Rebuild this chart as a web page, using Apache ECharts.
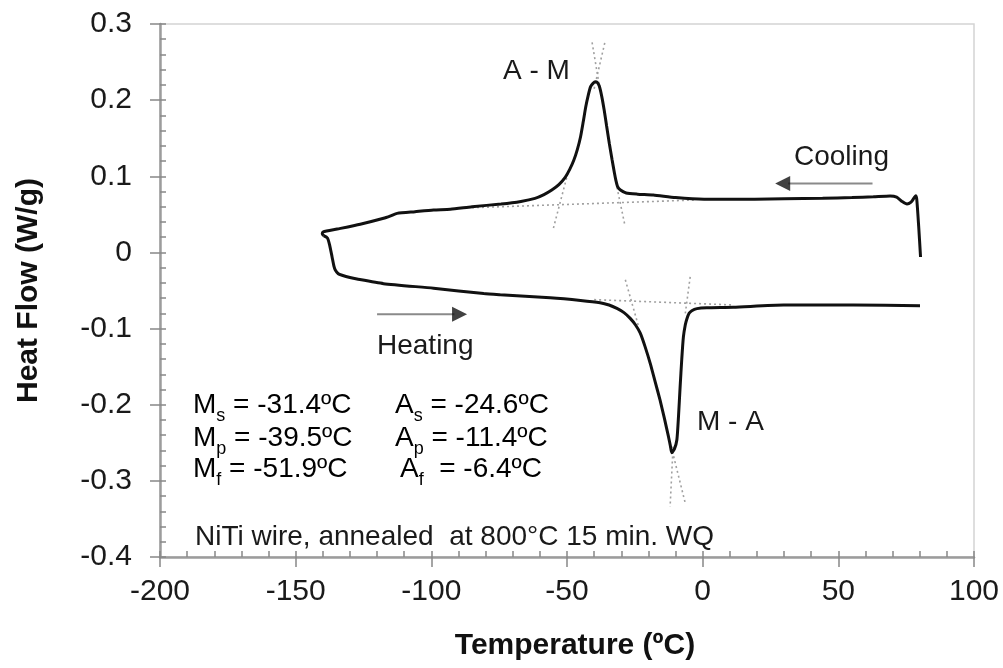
<!DOCTYPE html>
<html>
<head>
<meta charset="utf-8">
<script src="https://cdn.jsdelivr.net/npm/echarts@6/dist/echarts.min.js"></script>
<style>
html,body{margin:0;padding:0;background:#fff;}
#chart{width:1003px;height:668px;}
</style>
</head>
<body>
<div id="chart"></div>
<script>
// ---------- data ----------
const coolingT = [80.3, 79.6, 78.9, 78.5, 77.8, 76.8, 75.3, 73.5, 71.5, 69.1, 62.9, 55, 44.2, 30, 19.2, 0.5, -10, -18.2, -24, -28.2, -30.3, -31.3, -32.0, -32.5, -33.4, -34.4, -35.4, -36.3, -37.2, -38.1, -38.9, -39.6, -40.4, -41.3, -42.2, -43.1, -44.0, -45.0, -46.2, -47.5, -49.0, -50.6, -53, -55.6, -58.5, -61.8, -67, -74.3, -85, -93.0, -99.2, -106, -112.6, -115, -117.6, -126.2, -134.7, -139.9, -140.2, -139.7];
const coolingHF = [-0.006, 0.035, 0.070, 0.0745, 0.071, 0.066, 0.0636, 0.067, 0.0725, 0.074, 0.073, 0.072, 0.071, 0.0705, 0.070, 0.070, 0.072, 0.0754, 0.0765, 0.078, 0.082, 0.086, 0.095, 0.104, 0.122, 0.143, 0.166, 0.187, 0.205, 0.2185, 0.2235, 0.224, 0.222, 0.2177, 0.206, 0.191, 0.172, 0.152, 0.135, 0.121, 0.109, 0.099, 0.089, 0.082, 0.076, 0.071, 0.067, 0.0636, 0.060, 0.0566, 0.0557, 0.0535, 0.0513, 0.048, 0.0448, 0.037, 0.0307, 0.027, 0.0245, 0.022];

const heatingT = [-139.7, -138.3, -137.5, -136.6, -135.9, -135.4, -134.3, -132.9, -130, -127.4, -117.6, -99.2, -80.7, -74.6, -56.2, -45, -37.8, -34.5, -31.6, -29, -26.7, -24.8, -23.0, -21.2, -19.3, -17.5, -15.7, -14.1, -12.6, -11.9, -11.4, -10.4, -9.5, -8.9, -8.3, -7.7, -7.1, -6.4, -5.8, -5.0, -4.0, -2.1, 1.5, 11.3, 29.8, 55.5, 80.1];
const heatingHF = [0.022, 0.019, 0.010, -0.0056, -0.018, -0.023, -0.028, -0.030, -0.033, -0.035, -0.041, -0.047, -0.054, -0.0555, -0.0595, -0.063, -0.066, -0.069, -0.0735, -0.079, -0.0866, -0.095, -0.106, -0.124, -0.146, -0.170, -0.194, -0.218, -0.242, -0.254, -0.263, -0.258, -0.246, -0.215, -0.176, -0.14, -0.111, -0.095, -0.087, -0.080, -0.0765, -0.0738, -0.0726, -0.072, -0.069, -0.069, -0.070];

// dotted construction (tangent) lines: [[T1, HF1], [T2, HF2]]
const coolBaseline   = [[-85, 0.0587], [-3.2, 0.0688]];
const coolMfTangent  = [[-55.0, 0.032], [-49.4, 0.108]];
const coolMsTangent  = [[-28.8, 0.038], [-31.9, 0.091]];
const coolPeakLineA  = [[-40.0, 0.215], [-35.9, 0.278]];
const coolPeakLineB  = [[-37.9, 0.215], [-40.9, 0.279]];
const heatBaseline   = [[-40, -0.062], [11.3, -0.069]];
const heatAsTangent  = [[-28.5, -0.036], [-23.6, -0.0976]];
const heatAfTangent  = [[-4.6, -0.032], [-6.4, -0.080]];
const heatPeakLineC  = [[-10.9, -0.255], [-12.0, -0.334]];
const heatPeakLineD  = [[-11.6, -0.255], [-6.4, -0.3295]];

// direction arrows: shaft [[T1,HF1],[T2,HF2]] and arrowhead centre [T,HF]
const coolingArrowShaft = [[62.6, 0.0905], [31.5, 0.0905]];
const coolingArrowHead  = [29.5, 0.0905];
const heatingArrowShaft = [[-120.0, -0.0813], [-91.5, -0.0813]];
const heatingArrowHead  = [-89.6, -0.0813];

// axes
const xMin = -200, xMax = 100, xStep = 50;
const yMin = -0.4, yMax = 0.3, yStep = 0.1;

// ---------- chart ----------
const FONT = '"Liberation Sans", Arial, Helvetica, sans-serif';
const zip = (a, b) => a.map((v, i) => [v, b[i]]);
const chart = echarts.init(document.getElementById('chart'), null, {renderer: 'canvas'});

const dotted = (data) => ({
  type: 'line', data: data, symbol: 'none', silent: true, z: 1,
  lineStyle: {color: '#a0a0a0', width: 1.6, type: [2, 3]}
});

const baseAxis = {
  axisLine: {show: true, onZero: false, lineStyle: {color: '#9c9c9c', width: 2.5}},
  splitLine: {show: false}
};

chart.setOption({
  animation: false,
  backgroundColor: '#ffffff',
  grid: {left: 160, right: 29, top: 24, bottom: 111, show: true, borderColor: '#d4d4d4', borderWidth: 1.5, backgroundColor: 'transparent'},
  xAxis: [
    Object.assign({}, baseAxis, {
      type: 'value', min: xMin, max: xMax, interval: xStep, position: 'bottom',
      name: 'Temperature (ºC)', nameLocation: 'middle', nameGap: 74,
      nameTextStyle: {fontFamily: FONT, fontSize: 30, fontWeight: 'bold', color: '#111', padding: [0, 0, 0, 16]},
      axisTick: {show: true, inside: true, length: 6, lineStyle: {color: '#888', width: 1.5}},
      minorTick: {show: true, splitNumber: 5, length: 6, lineStyle: {color: '#888', width: 1.5}},
      axisLabel: {fontFamily: FONT, fontSize: 30, color: '#1a1a1a', margin: 20}
    }),
    {
      type: 'value', min: xMin, max: xMax, interval: xStep, position: 'bottom',
      axisLine: {show: false, onZero: false}, splitLine: {show: false}, axisLabel: {show: false},
      axisTick: {show: true, inside: false, length: 10, lineStyle: {color: '#888', width: 1.5}}
    }
  ],
  yAxis: [
    Object.assign({}, baseAxis, {
      type: 'value', min: yMin, max: yMax, interval: yStep, position: 'left',
      name: 'Heat Flow (W/g)', nameLocation: 'middle', nameGap: 116,
      nameTextStyle: {fontFamily: FONT, fontSize: 30, fontWeight: 'bold', color: '#111'},
      axisTick: {show: true, inside: true, length: 6, lineStyle: {color: '#888', width: 1.5}},
      minorTick: {show: true, splitNumber: 5, length: 6, lineStyle: {color: '#888', width: 1.5}},
      axisLabel: {fontFamily: FONT, fontSize: 30, color: '#1a1a1a', margin: 28}
    }),
    {
      type: 'value', min: yMin, max: yMax, interval: yStep, position: 'left',
      axisLine: {show: false, onZero: false}, splitLine: {show: false}, axisLabel: {show: false},
      axisTick: {show: true, inside: false, length: 10, lineStyle: {color: '#888', width: 1.5}}
    }
  ],
  series: [
    dotted(coolBaseline), dotted(coolMfTangent), dotted(coolMsTangent),
    dotted(coolPeakLineA), dotted(coolPeakLineB),
    dotted(heatBaseline), dotted(heatAsTangent), dotted(heatAfTangent),
    dotted(heatPeakLineC), dotted(heatPeakLineD),
    {
      name: 'Cooling', type: 'line', data: zip(coolingT, coolingHF), symbol: 'none', smooth: 0.2, z: 3,
      lineStyle: {color: '#111', width: 3}
    },
    {
      name: 'Heating', type: 'line', data: zip(heatingT, heatingHF), symbol: 'none', smooth: 0.2, z: 3,
      lineStyle: {color: '#111', width: 3}
    },
    {type: 'line', data: coolingArrowShaft, symbol: 'none', z: 2, lineStyle: {color: '#8a8a8a', width: 2}},
    {type: 'line', data: heatingArrowShaft, symbol: 'none', z: 2, lineStyle: {color: '#8a8a8a', width: 2}},
    {type: 'scatter', data: [coolingArrowHead], symbol: 'triangle', symbolSize: [15, 15], symbolRotate: 90, z: 4, itemStyle: {color: '#111'}},
    {type: 'scatter', data: [heatingArrowHead], symbol: 'triangle', symbolSize: [15, 15], symbolRotate: -90, z: 4, itemStyle: {color: '#111'}}
  ],
  graphic: (function () {
    const base = {fontFamily: FONT, fontSize: 28, fill: '#1a1a1a'};
    const rich = {
      b: {fontFamily: FONT, fontSize: 28, lineHeight: 30, verticalAlign: 'top', color: '#1a1a1a'},
      s: {fontFamily: FONT, fontSize: 18, lineHeight: 18, padding: [16, 0, 0, 0], verticalAlign: 'top', color: '#6f5a3e'}
    };
    const plain = (t, x, y) => ({type: 'text', x: x, y: y, silent: true, style: Object.assign({text: t, verticalAlign: 'middle', align: 'left'}, base)});
    const sub = (main, s, rest, x, y) => ({type: 'text', x: x, y: y, silent: true,
      style: {text: '{b|' + main + '}{s|' + s + '}{b|' + rest + '}', rich: rich, verticalAlign: 'middle', align: 'left', fontFamily: FONT, fontSize: 28}});
    return [
      plain('A - M', 503, 71),
      plain('Cooling', 794, 157),
      plain('Heating', 377, 346),
      plain('M - A', 697, 422),
      sub('M', 's', ' = -31.4ºC', 193, 406),
      sub('M', 'p', ' = -39.5ºC', 193, 439),
      sub('M', 'f', ' = -51.9ºC', 193, 470),
      sub('A', 's', ' = -24.6ºC', 395, 406),
      sub('A', 'p', ' = -11.4ºC', 395, 439),
      sub('A', 'f', '  = -6.4ºC', 400, 470),
      plain('NiTi wire, annealed  at 800°C 15 min. WQ', 195, 537)
    ];
  })()
});
</script>
</body>
</html>
